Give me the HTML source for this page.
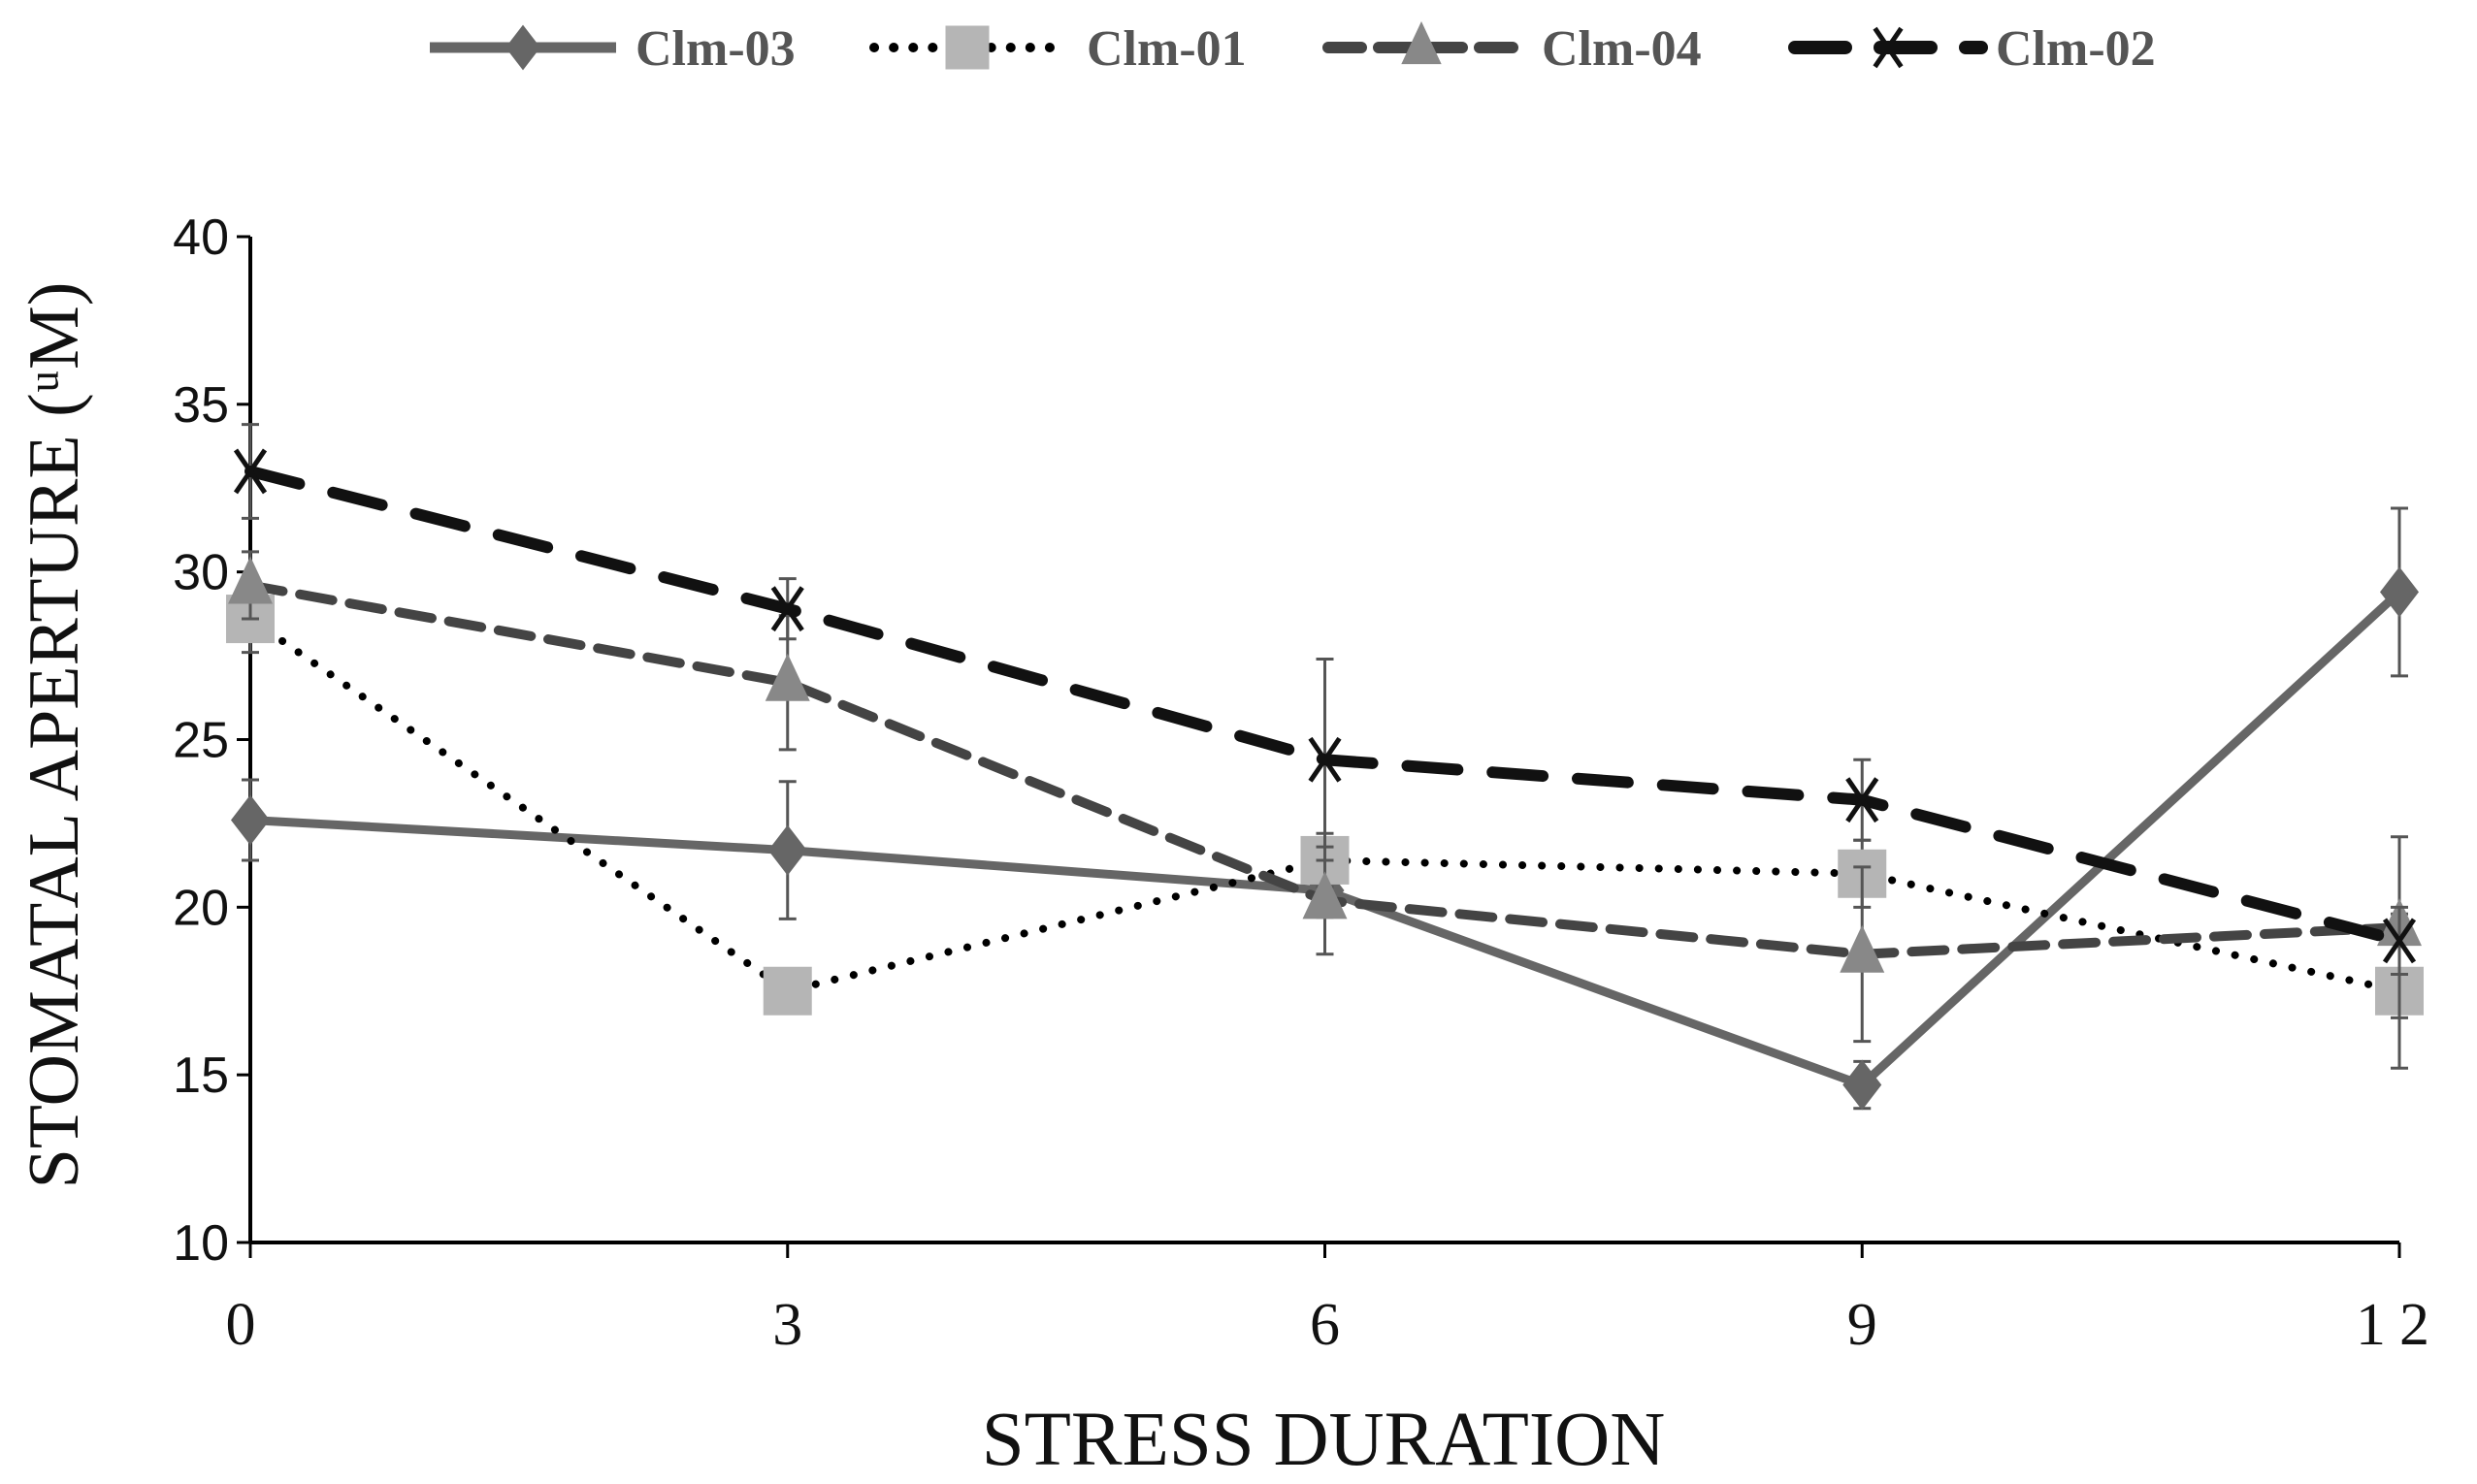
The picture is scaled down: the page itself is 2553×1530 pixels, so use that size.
<!DOCTYPE html>
<html><head><meta charset="utf-8"><style>
html,body{margin:0;padding:0;background:#fff;}
svg{display:block;}
</style></head><body>
<svg id="chart" width="2553" height="1530" viewBox="0 0 2553 1530" xmlns="http://www.w3.org/2000/svg">
<g id="legend"></g>
<g id="axes"></g>
<g id="series"></g>
<text x="1364" y="1510" text-anchor="middle" font-family="Liberation Serif, serif" font-size="79" fill="#111">STRESS DURATION</text>
<text transform="translate(80,758) rotate(-90)" text-anchor="middle" font-family="Liberation Serif, serif" font-size="74" fill="#111">STOMATAL APERTURE (ᵘM)</text>
</svg>
<script>
const xCats = [0, 3, 6, 9, 12];
const yTicks = [10, 15, 20, 25, 30, 35, 40];
const clm03 = [22.6, 21.7, 20.5, 14.7, 29.4];
const clm03Err = [1.2, 2.05, 0.8, 0.7, 2.5];
const clm01 = [28.6, 17.5, 21.4, 21.0, 17.5];
const clm01Err = [1.0, 0.3, 0.8, 1.0, 2.3];
const clm04 = [29.6, 26.7, 20.2, 18.6, 19.4];
const clm04Err = [1.0, 2.0, 1.6, 2.6, 2.7];
const clm02 = [33.0, 28.9, 24.4, 23.2, 19.0];
const clm02Err = [1.4, 0.9, 3.0, 1.2, 1.0];

const NS='http://www.w3.org/2000/svg';
const X0=258,X1=2473,Y0=1281,Y1=244;
const xs=v=>X0+(v-0)/(12-0)*(X1-X0);
const ys=v=>Y0-(v-10)/(40-10)*(Y0-Y1);
function mk(tag,attrs,parent){const e=document.createElementNS(NS,tag);for(const k in attrs)e.setAttribute(k,attrs[k]);parent.appendChild(e);return e;}
const axes=document.getElementById('axes');
const series=document.getElementById('series');
const legend=document.getElementById('legend');

let a=mk('line',{x1:X0,y1:Y1,x2:X0,y2:Y0,stroke:'#000','stroke-width':4},axes);


a=mk('line',{x1:X0,y1:Y0,x2:X1,y2:Y0,stroke:'#000','stroke-width':4},axes);


yTicks.forEach(t=>{
  const tk=mk('line',{x1:X0-14,y1:ys(t),x2:X0,y2:ys(t),stroke:'#000','stroke-width':3},axes);
  
  
  const tx=mk('text',{x:X0-22,y:ys(t)+18,'text-anchor':'end','font-family':'Liberation Sans, sans-serif','font-size':52,fill:'#111'},axes);
  tx.textContent=t;
  
  
});
xCats.forEach(c=>{
  const tk=mk('line',{x1:xs(c),y1:Y0,x2:xs(c),y2:Y0+16,stroke:'#000','stroke-width':3},axes);
  
  
  const tx=mk('text',{x:xs(c)-(c===0?10:0),y:Y0+105,'text-anchor':'middle','font-family':'Liberation Serif, serif','font-size':62,fill:'#111','letter-spacing':c===12?14:0},axes);
  tx.textContent=c;
  
  
});

function marker(type,cx,cy,g,fill,s){
  s=s||1;
  if(type==='diamond') return mk('polygon',{points:`${cx},${cy-26*s} ${cx+20*s},${cy} ${cx},${cy+26*s} ${cx-20*s},${cy}`,fill:fill},g);
  if(type==='square') return mk('rect',{x:cx-25*s,y:cy-25*s,width:50*s,height:50*s,fill:fill},g);
  if(type==='triangle') return mk('polygon',{points:`${cx},${cy-30*s} ${cx+23*s},${cy+19*s} ${cx-23*s},${cy+19*s}`,fill:fill},g);
  const p=mk('path',{d:`M${cx-15*s},${cy-22*s} L${cx+15*s},${cy+22*s} M${cx+15*s},${cy-22*s} L${cx-15*s},${cy+22*s}`,stroke:fill,'stroke-width':5,fill:'none'},g);
  return p;
}
const defs=[
 {name:'clm-03',label:'Clm-03',vals:clm03,err:clm03Err,stroke:'#666',dash:'',cap:'butt',mk:'diamond',mfill:'#666',w:9,lx:443,tx:655,errc:'#555'},
 {name:'clm-01',label:'Clm-01',vals:clm01,err:clm01Err,stroke:'#000',dash:'0.1 20',cap:'round',mk:'square',mfill:'#b5b5b5',w:8,lx:901,tx:1120,errc:'#555'},
 {name:'clm-04',label:'Clm-04',vals:clm04,err:clm04Err,stroke:'#444',dash:'34 18',cap:'round',mk:'triangle',mfill:'#888',w:10,lx:1369,tx:1589,errc:'#555'},
 {name:'clm-02',label:'Clm-02',vals:clm02,err:clm02Err,stroke:'#111',dash:'52 36',cap:'round',mk:'x',mfill:'#111',w:12,lx:1850,tx:2057,errc:'#555'}
];
defs.forEach(d=>{
  const g=mk('g',{},series);
  
  
  d.vals.forEach((v,i)=>{
    const x=xs(xCats[i]),hi=ys(v+d.err[i]),lo=ys(v-d.err[i]);
    const eb=mk('path',{d:`M${x},${hi} L${x},${lo} M${x-9},${hi} L${x+9},${hi} M${x-9},${lo} L${x+9},${lo}`,stroke:d.errc,'stroke-width':3,fill:'none'},g);
    
    
  });
  const pts=d.vals.map((v,i)=>xs(xCats[i])+','+ys(v)).join(' ');
  const pl=mk('polyline',{points:pts,fill:'none',stroke:d.stroke,'stroke-width':d.w,'stroke-dasharray':d.dash,'stroke-linecap':d.cap,'stroke-linejoin':'round'},g);
  
  
  d.vals.forEach((v,i)=>{
    const m=marker(d.mk,xs(xCats[i]),ys(v),g,d.mfill);
    
    
  });
  const lg=mk('g',{},legend);
  
  
  const ll=mk('line',{x1:d.lx,y1:49,x2:d.lx+192,y2:49,stroke:d.stroke,'stroke-width':d.w+2,'stroke-dasharray':d.dash,'stroke-linecap':d.cap},lg);
  
  
  const lm=marker(d.mk,d.lx+96,49,lg,d.mfill,0.9);
  
  
  const lt=mk('text',{x:d.tx,y:67,'font-family':'Liberation Serif, serif','font-weight':'bold','font-size':52,fill:'#555'},lg);
  lt.textContent=d.label;
  
  
});
</script>
</body></html>
